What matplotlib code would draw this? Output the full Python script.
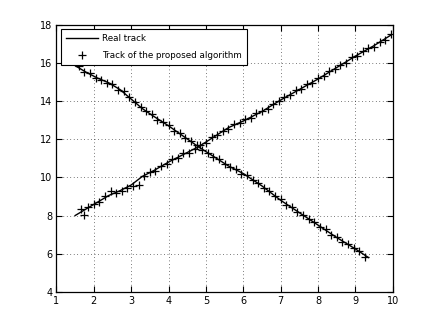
import matplotlib
matplotlib.use("Agg")
import matplotlib.pyplot as plt

# Real track (rising)
real_up_x = [1.5, 1.8, 2.1, 2.4, 2.7, 3.0, 3.3, 3.6, 4.0, 4.4, 4.8, 5.2, 5.6, 6.0, 6.5, 7.0, 7.5, 8.0, 8.5, 9.0, 9.5, 9.95]
real_up_y = [8.0, 8.35, 8.7, 9.05, 9.3, 9.6, 10.05, 10.35, 10.8, 11.2, 11.6, 12.1, 12.6, 12.95, 13.45, 14.05, 14.6, 15.15, 15.75, 16.35, 16.9, 17.45]
# Real track (falling)
real_down_x = [1.5, 1.8, 2.1, 2.4, 2.7, 3.0, 3.3, 3.6, 4.0, 4.4, 4.8, 5.2, 5.6, 6.0, 6.5, 7.0, 7.5, 8.0, 8.5, 9.0, 9.35]
real_down_y = [15.85, 15.5, 15.2, 14.95, 14.6, 14.1, 13.6, 13.2, 12.7, 12.15, 11.6, 11.1, 10.6, 10.2, 9.55, 8.8, 8.15, 7.5, 6.85, 6.25, 5.8]

# Estimated track (rising)
est_up_x = [1.65, 1.75, 1.85, 2.0, 2.15, 2.3, 2.45, 2.6, 2.75, 2.9, 3.05, 3.2, 3.35, 3.5, 3.65, 3.8, 3.95,
            4.1, 4.25, 4.4, 4.55, 4.7, 4.85, 5.0, 5.15, 5.3, 5.45, 5.6, 5.75, 5.9, 6.05, 6.2, 6.35, 6.5,
            6.65, 6.8, 6.95, 7.1, 7.25, 7.4, 7.55, 7.7, 7.85, 8.0, 8.15, 8.3, 8.45, 8.6, 8.75, 8.9, 9.05,
            9.2, 9.35, 9.5, 9.65, 9.8, 9.95]
est_up_y = [8.35, 8.05, 8.45, 8.6, 8.7, 9.0, 9.3, 9.2, 9.3, 9.45, 9.55, 9.6, 10.05, 10.3, 10.35, 10.6, 10.7,
            10.95, 11.0, 11.25, 11.3, 11.5, 11.7, 11.8, 12.1, 12.2, 12.45, 12.55, 12.8, 12.85, 13.05, 13.1,
            13.35, 13.5, 13.6, 13.85, 14.0, 14.2, 14.3, 14.55, 14.65, 14.9, 14.95, 15.2, 15.3, 15.55, 15.65,
            15.9, 16.0, 16.3, 16.35, 16.6, 16.8, 16.85, 17.1, 17.2, 17.5]
# Estimated track (falling)
est_down_x = [1.6, 1.75, 1.9, 2.05, 2.2, 2.35, 2.5, 2.65, 2.8, 2.95, 3.1, 3.25, 3.4, 3.55, 3.7, 3.85, 4.0,
              4.15, 4.3, 4.45, 4.6, 4.75, 4.9, 5.05, 5.2, 5.35, 5.5, 5.65, 5.8, 5.95, 6.1, 6.25, 6.4, 6.55,
              6.7, 6.85, 7.0, 7.15, 7.3, 7.45, 7.6, 7.75, 7.9, 8.05, 8.2, 8.35, 8.5, 8.65, 8.8, 8.95, 9.1, 9.25]
est_down_y = [15.85, 15.5, 15.45, 15.2, 15.1, 14.95, 14.9, 14.6, 14.5, 14.2, 13.95, 13.7, 13.45, 13.3, 13.0,
              12.9, 12.75, 12.45, 12.3, 12.05, 11.9, 11.7, 11.45, 11.3, 11.05, 10.95, 10.7, 10.55, 10.45,
              10.2, 10.1, 9.85, 9.7, 9.45, 9.3, 9.0, 8.85, 8.55, 8.45, 8.2, 8.05, 7.8, 7.65, 7.4, 7.3, 7.0,
              6.9, 6.6, 6.5, 6.3, 6.15, 5.85]

x_ticks = [1, 2, 3, 4, 5, 6, 7, 8, 9, 10]
y_ticks = [4, 6, 8, 10, 12, 14, 16, 18]

plt.rcParams['font.family'] = ['DejaVu Sans']
fig = plt.figure(figsize=(4.34, 3.28), dpi=100)
ax = fig.add_axes([0.13, 0.11, 0.775, 0.815])

ax.plot(real_up_x, real_up_y, color='black', lw=1.0, label='Real track')
ax.plot(real_down_x, real_down_y, color='black', lw=1.0)
ax.plot(est_up_x, est_up_y, linestyle='none', marker='+', ms=5.5, mew=0.9, color='black',
        label='Track of the proposed algorithm')
ax.plot(est_down_x, est_down_y, linestyle='none', marker='+', ms=5.5, mew=0.9, color='black')

ax.set_xlim(1, 10)
ax.set_ylim(4, 18)
ax.set_xticks(x_ticks)
ax.set_yticks(y_ticks)
ax.tick_params(direction='in', top=True, right=True, labelsize=7, length=4, width=0.8, pad=3)
ax.grid(True, color='black', linestyle=(0, (1, 4)), lw=0.5)
for s in ax.spines.values():
    s.set_linewidth(0.9)

leg = ax.legend(loc='upper left', fontsize=6.3, frameon=True, fancybox=False, framealpha=1,
                edgecolor='black', borderaxespad=0.5, handlelength=3.6, borderpad=0.6,
                labelspacing=0.9, handletextpad=0.5)
leg.get_frame().set_linewidth(0.8)

fig.savefig('out.png', dpi=100)
